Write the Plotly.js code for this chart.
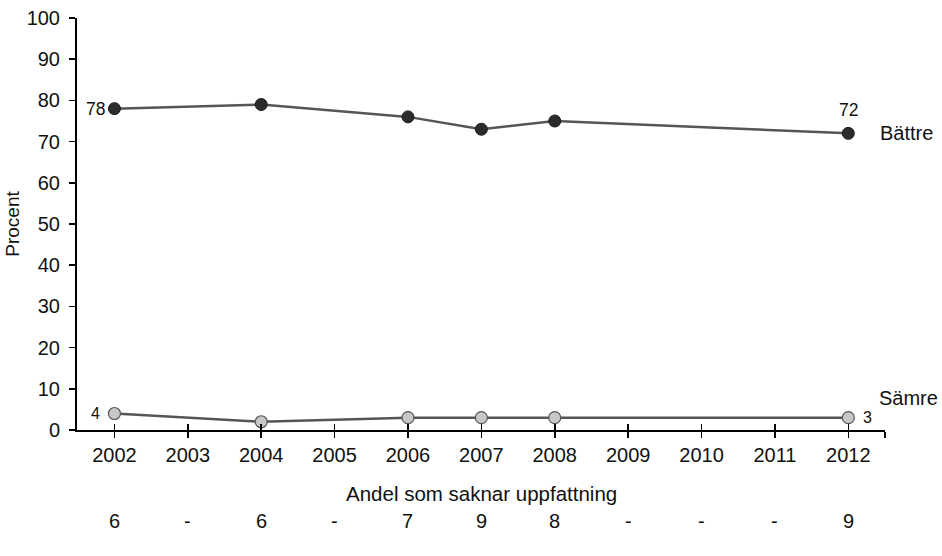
<!DOCTYPE html>
<html>
<head>
<meta charset="utf-8">
<script src="https://cdn.plot.ly/plotly-3.0.1.min.js"></script>
<style>html,body{margin:0;padding:0;background:#fff}#chart{width:942px;height:556px}</style>
</head>
<body>
<div id="chart"></div>
<script>
const years = [2002, 2003, 2004, 2005, 2006, 2007, 2008, 2009, 2010, 2011, 2012];
const battreYears = [2002, 2004, 2006, 2007, 2008, 2012];
const battre = [78, 79, 76, 73, 75, 72];
const samreYears = [2002, 2004, 2006, 2007, 2008, 2012];
const samre = [4, 2, 3, 3, 3, 3];
const saknar = ["6", "-", "6", "-", "7", "9", "8", "-", "-", "-", "9"];
const seriesNames = ["Bättre", "Sämre"];
const yTitle = "Procent";
const bottomTitle = "Andel som saknar uppfattning";

const FONT = "Liberation Sans, Arial, sans-serif";

const traces = [
  {
    x: battreYears, y: battre, type: "scatter", mode: "lines+markers", name: seriesNames[0],
    line: {color: "#555555", width: 2.5},
    marker: {size: 12, color: "#2b2b2b", line: {color: "#1a1a1a", width: 1}},
    hoverinfo: "skip", cliponaxis: false
  },
  {
    x: samreYears, y: samre, type: "scatter", mode: "lines+markers", name: seriesNames[1],
    line: {color: "#555555", width: 2.5},
    marker: {size: 12, color: "#c8c8c8", line: {color: "#555555", width: 1.2}},
    hoverinfo: "skip", cliponaxis: false
  },
  {
    x: [years[0]], y: [0], xaxis: "x2", yaxis: "y", type: "scatter", mode: "markers",
    marker: {opacity: 0}, hoverinfo: "skip", showlegend: false
  }
];

const annotations = [];
const f16 = {family: FONT, size: 16, color: "#111"};
const f17 = {family: FONT, size: 17.5, color: "#111"};
const f20 = {family: FONT, size: 20, color: "#111"};
const f205 = {family: FONT, size: 20.5, color: "#111"};

annotations.push({x: battreYears[0], y: battre[0], xref: "x", yref: "y", text: String(battre[0]), showarrow: false, xanchor: "right", xshift: -7, font: f17});
annotations.push({x: battreYears[battreYears.length-1], y: battre[battre.length-1], xref: "x", yref: "y", text: String(battre[battre.length-1]), showarrow: false, yshift: 23, font: f17});
annotations.push({x: samreYears[0], y: samre[0], xref: "x", yref: "y", text: String(samre[0]), showarrow: false, xanchor: "right", xshift: -12, font: f16});
annotations.push({x: samreYears[samreYears.length-1], y: samre[samre.length-1], xref: "x", yref: "y", text: String(samre[samre.length-1]), showarrow: false, xanchor: "left", xshift: 13, font: f16});
annotations.push({x: 2012, y: battre[battre.length-1], xref: "x", yref: "y", text: seriesNames[0], showarrow: false, xanchor: "left", xshift: 30, font: f20});
annotations.push({x: 2012, y: 7.8, xref: "x", yref: "y", text: seriesNames[1], showarrow: false, xanchor: "left", xshift: 29, font: f20});
annotations.push({x: 0.5, y: -0.153, xref: "paper", yref: "paper", yanchor: "middle", text: bottomTitle, showarrow: false, font: f205});
years.forEach((yr, i) => {
  annotations.push({x: yr, y: -0.221, xref: "x", yref: "paper", yanchor: "middle", text: saknar[i], showarrow: false, font: f20});
});

const tickvals = years.concat([2012.5]);
const ticktext = years.map(String).concat([""]);

const layout = {
  width: 942, height: 556,
  margin: {l: 77, r: 57, t: 18, b: 126},
  paper_bgcolor: "#fff", plot_bgcolor: "#fff",
  showlegend: false,
  font: {family: FONT, size: 20, color: "#111"},
  xaxis: {
    range: [2001.49, 2012.5], tickmode: "array", tickvals: tickvals, ticktext: ticktext,
    showgrid: false, zeroline: false, showline: true, linecolor: "#000", linewidth: 2,
    ticks: "outside", ticklen: 6, tickwidth: 1.5, tickcolor: "#000",
    tickfont: {family: FONT, size: 20, color: "#111"}, fixedrange: true
  },
  xaxis2: {
    overlaying: "x", anchor: "y", matches: "x", range: [2001.49, 2012.5],
    tickmode: "array", tickvals: tickvals, showticklabels: false,
    showgrid: false, zeroline: false, showline: false,
    ticks: "inside", ticklen: 6, tickwidth: 1.5, tickcolor: "#000", side: "bottom"
  },
  yaxis: {
    range: [0, 100], tickmode: "array", tickvals: [0,10,20,30,40,50,60,70,80,90,100],
    showgrid: false, zeroline: false, showline: true, linecolor: "#000", linewidth: 2,
    ticks: "outside", ticklen: 6, tickwidth: 1.5, tickcolor: "#000", ticklabelstandoff: 5,
    tickfont: {family: FONT, size: 20, color: "#111"},
    title: {text: yTitle, font: {family: FONT, size: 19, color: "#111"}, standoff: 2}, fixedrange: true
  },
  annotations: annotations
};

Plotly.newPlot("chart", traces, layout, {staticPlot: true, displayModeBar: false});
</script>
</body>
</html>
